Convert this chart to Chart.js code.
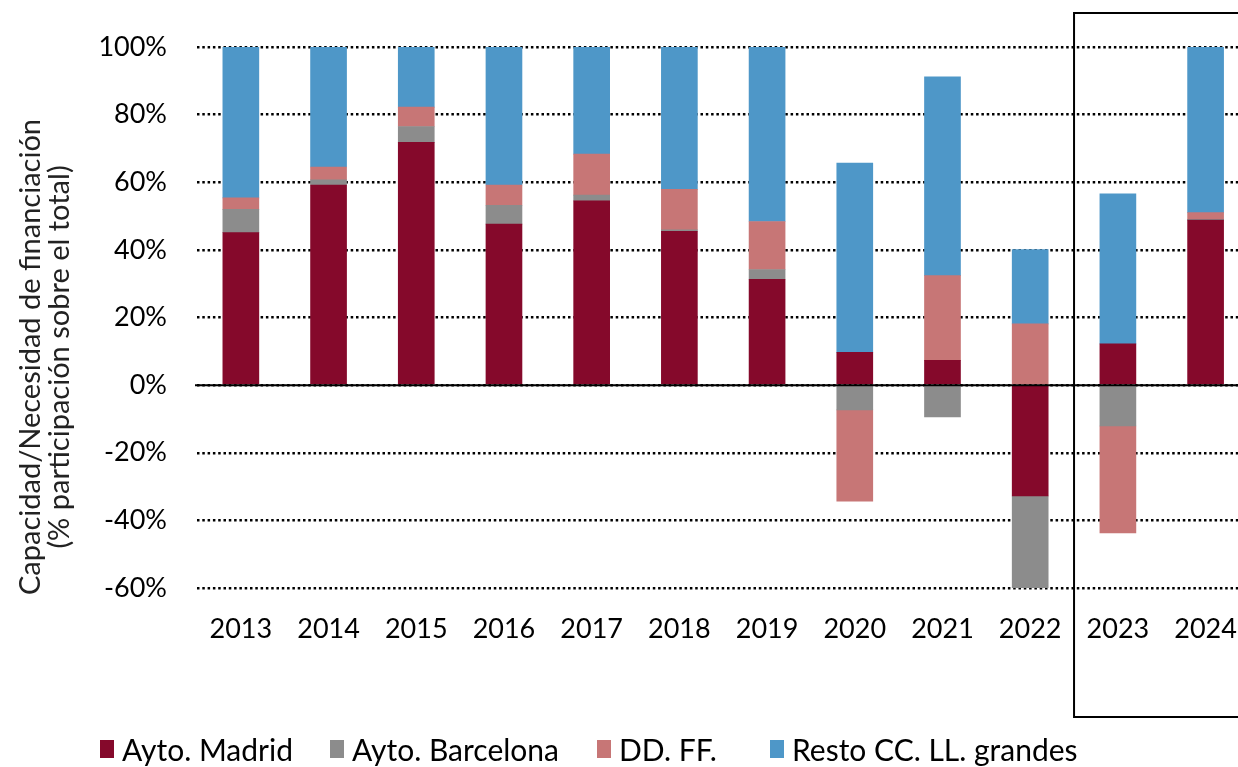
<!DOCTYPE html>
<html lang="es">
<head>
<meta charset="utf-8">
<script src="https://cdn.jsdelivr.net/npm/chart.js@4/dist/chart.umd.min.js"></script>
<style>
  html, body { margin: 0; padding: 0; background: #fff; overflow: hidden; }
  #wrap { position: absolute; left: 0; top: 0; width: 1238px; height: 767px; overflow: hidden; }
  #grafico { position: absolute; left: 0; top: 0; }
  #leyenda { position: absolute; left: 0; top: 731px; width: 1238px; height: 36px; font: 30px Lato, sans-serif; color: #000; white-space: nowrap; }
  #leyenda .item { position: absolute; top: 0; display: flex; align-items: center; }
  #leyenda .caja { width: 14px; height: 18px; margin-right: 8px; }
</style>
</head>
<body>
<div id="wrap">
  <canvas id="grafico" width="1254" height="767"></canvas>
  <div id="leyenda"></div>
</div>
<script>
const anios = ["2013", "2014", "2015", "2016", "2017", "2018", "2019", "2020", "2021", "2022", "2023", "2024"];

// % participación sobre el total
const madrid = [45.1, 59.2, 71.8, 47.6, 54.5, 45.5, 31.3, 9.7, 7.3, -32.8, 12.2, 48.8];
const barcelona = [6.9, 1.5, 4.7, 5.6, 1.7, 0.4, 2.9, -7.3, -9.4, -27.2, -12.1, 0.2];
const ddff = [3.4, 3.8, 5.7, 6.0, 12.1, 12.0, 14.2, -27.0, 25.1, 18.1, -31.6, 2.0];
const resto = [44.6, 35.5, 17.8, 40.8, 31.7, 42.1, 51.6, 56.0, 58.8, 22.0, 44.4, 49.0];

const series = [
  { nombre: "Ayto. Madrid", datos: madrid, color: "#85092b" },
  { nombre: "Ayto. Barcelona", datos: barcelona, color: "#8c8c8c" },
  { nombre: "DD. FF.", datos: ddff, color: "#c77676" },
  { nombre: "Resto CC. LL. grandes", datos: resto, color: "#4e97c8" }
];

const fuente = "Lato, sans-serif";

// linea del cero, recuadro de 2023-2024 y titulo del eje
const extras = {
  id: "extras",
  afterDatasetsDraw(chart) {
    const { ctx, chartArea, scales } = chart;
    const y0 = scales.y.getPixelForValue(0);
    ctx.save();
    ctx.strokeStyle = "#000";
    ctx.lineWidth = 2;
    ctx.beginPath();
    ctx.moveTo(chartArea.left - 2, y0);
    ctx.lineTo(chartArea.right + 5, y0);
    ctx.stroke();

    const xa = (scales.x.getPixelForValue(9) + scales.x.getPixelForValue(10)) / 2;
    ctx.lineWidth = 2;
    ctx.strokeRect(xa, 13, 400, 704);
    ctx.restore();
  },
  afterDraw(chart) {
    const { ctx } = chart;
    ctx.save();
    ctx.fillStyle = "#222";
    ctx.font = "29px " + fuente;
    ctx.textAlign = "center";
    ctx.textBaseline = "middle";
    ctx.translate(0, 357);
    ctx.rotate(-Math.PI / 2);
    ctx.fillText("Capacidad/Necesidad de financiación", 0, 31);
    ctx.fillText("(% participación sobre el total)", 0, 60);
    ctx.restore();
  }
};

new Chart(document.getElementById("grafico"), {
  type: "bar",
  data: {
    labels: anios,
    datasets: series.map((s) => ({
      label: s.nombre,
      data: s.datos,
      backgroundColor: s.color,
      borderWidth: 0,
      barThickness: 36
    }))
  },
  options: {
    responsive: false,
    animation: false,
    layout: { padding: { top: 47, right: 2, left: 0, bottom: 0 } },
    plugins: {
      legend: { display: false },
      tooltip: { enabled: false }
    },
    scales: {
      x: {
        stacked: true,
        grid: { display: false },
        border: { display: false },
        ticks: { color: "#000", font: { family: fuente, size: 27 }, padding: 17 },
        afterFit(scale) { scale.height = 179; }
      },
      y: {
        stacked: true,
        min: -60,
        max: 100,
        grid: { color: "#000", lineWidth: 2.5, drawTicks: false },
        border: { display: false, dash: [2.5, 2.8] },
        ticks: {
          stepSize: 20,
          color: "#000",
          padding: 30,
          font: { family: fuente, size: 27 },
          callback: (v) => v + "%"
        },
        afterFit(scale) { scale.width = 197; }
      }
    }
  },
  plugins: [extras]
});

// leyenda en html, debajo del grafico
const posLeyenda = [100, 330, 597, 770];
const leyenda = document.getElementById("leyenda");
series.forEach((s, i) => {
  const item = document.createElement("div");
  item.className = "item";
  item.style.left = posLeyenda[i] + "px";
  item.innerHTML = `<span class="caja" style="background:${s.color}"></span><span>${s.nombre}</span>`;
  leyenda.appendChild(item);
});
</script>
</body>
</html>
